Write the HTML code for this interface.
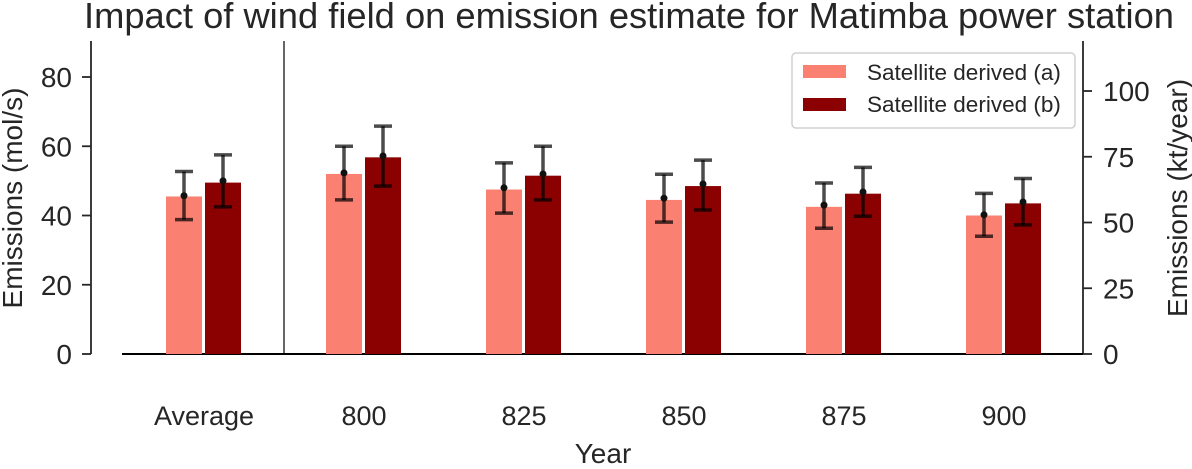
<!DOCTYPE html>
<html><head><meta charset="utf-8"><style>
body{margin:0;background:#fff}
text{font-family:"Liberation Sans",Arial,sans-serif;fill:#262626}
</style></head><body>
<svg width="1192" height="464" viewBox="0 0 1192 464">
<g id="g"></g>
</svg>
<script>
const categories=["Average","800","825","850","875","900"];
const valsA=[45.5,52,47.5,44.5,42.5,40];
const valsB=[49.5,56.8,51.5,48.5,46.3,43.5];
const dotA=[45.7,52.3,48,45,43,40.2];
const dotB=[50,57.2,52,49.1,46.8,43.9];
const hiA=[52.7,60,55.2,51.9,49.4,46.4];
const loA=[38.8,44.5,40.7,38.1,36.3,34];
const hiB=[57.5,65.8,60,56,53.9,50.7];
const loB=[42.5,48.5,44.5,41.6,39.8,37.3];
const leftTicks=[0,20,40,60,80];
const rightTicks=[0,25,50,75,100];
const NS="http://www.w3.org/2000/svg";
const g=document.getElementById('g');
const y0=354,pxPer=3.4625;
const y=v=>y0-v*pxPer;
const yR=v=>y0-v*2.63;
const xC=i=>204+i*160;
function mk(t,a,txt){const e=document.createElementNS(NS,t);for(const k in a)e.setAttribute(k,a[k]);if(txt!==undefined)e.textContent=txt;g.appendChild(e);return e;}
let e;
e=mk('text',{x:84,y:28,'font-size':36,textLength:1090,lengthAdjust:'spacingAndGlyphs'},'Impact of wind field on emission estimate for Matimba power station');

e=mk('line',{x1:91,y1:41,x2:91,y2:354,stroke:'#262626','stroke-width':1.8});

e=mk('line',{x1:1083,y1:41,x2:1083,y2:354,stroke:'#262626','stroke-width':1.8});

e=mk('line',{x1:122,y1:354,x2:1083,y2:354,stroke:'#000','stroke-width':2});

e=mk('line',{x1:284,y1:41,x2:284,y2:354,stroke:'#000','stroke-width':1.2});

leftTicks.forEach(t=>{
 e=mk('line',{x1:82,x2:91,y1:y(t),y2:y(t),stroke:'#262626','stroke-width':1.8});
 
 e=mk('text',{x:72,y:y(t)+10,'font-size':28,'text-anchor':'end'},String(t));
 
});
rightTicks.forEach(t=>{
 e=mk('line',{x1:1083,x2:1092,y1:yR(t),y2:yR(t),stroke:'#262626','stroke-width':1.8});
 
 e=mk('text',{x:1103,y:yR(t)+10,'font-size':28},String(t));
 
});
e=mk('text',{x:0,y:0,'font-size':28,'text-anchor':'middle',transform:'translate(22,198) rotate(-90)'},'Emissions (mol/s)');

e=mk('text',{x:0,y:0,'font-size':28,'text-anchor':'middle',transform:'translate(1187,198) rotate(-90)'},'Emissions (kt/year)');

e=mk('text',{x:603,y:463,'font-size':28,'text-anchor':'middle'},'Year');

function errbar(cx,lo,hi,d){
 const s={stroke:'rgba(0,0,0,0.7)','stroke-width':3.5};
 e=mk('line',Object.assign({x1:cx,x2:cx,y1:y(hi),y2:y(lo)},s));
 
 e=mk('line',Object.assign({x1:cx-9,x2:cx+9,y1:y(hi),y2:y(hi)},s));
 
 e=mk('line',Object.assign({x1:cx-9,x2:cx+9,y1:y(lo),y2:y(lo)},s));
 
 e=mk('circle',{cx:cx,cy:y(d),r:3.5,fill:'#111'});
 
}
categories.forEach((c,i)=>{
 const cx=xC(i);
 e=mk('rect',{x:cx-38,y:y(valsA[i]),width:36,height:valsA[i]*pxPer,fill:'#fa8072'});
 
 e=mk('rect',{x:cx+1,y:y(valsB[i]),width:36,height:valsB[i]*pxPer,fill:'#8b0000'});
 
 errbar(cx-20,loA[i],hiA[i],dotA[i]);
 errbar(cx+19,loB[i],hiB[i],dotB[i]);
 e=mk('text',{x:cx,y:425,'font-size':27,'text-anchor':'middle'},c);
 
});
e=mk('rect',{x:792,y:53,width:283,height:75,rx:4,fill:'#fff',stroke:'#d0d0d0','stroke-width':1.5});

e=mk('rect',{x:803,y:65,width:43,height:13,fill:'#fa8072'});

e=mk('text',{x:867,y:80,'font-size':22.5},'Satellite derived (a)');

e=mk('rect',{x:803,y:98,width:43,height:13,fill:'#8b0000'});

e=mk('text',{x:867,y:112,'font-size':22.5},'Satellite derived (b)');

</script>
</body></html>
